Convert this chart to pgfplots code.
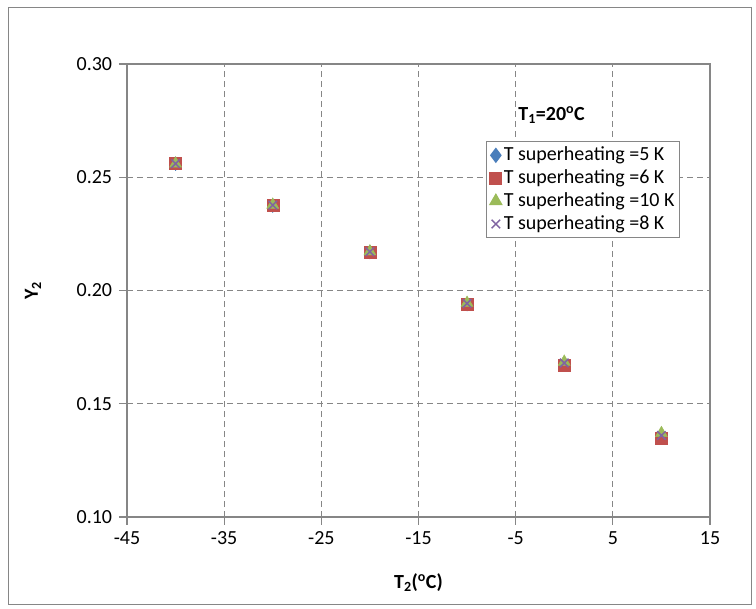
\documentclass[border=0pt]{standalone}
\usepackage{pgfplots}
\pgfplotsset{compat=1.18}
\usepackage{fontspec}
\setmainfont{Carlito}
\definecolor{axgray}{HTML}{868686}
\definecolor{sblue}{HTML}{4A7EBB}
\definecolor{sred}{HTML}{C0504D}
\definecolor{sgreen}{HTML}{9BBB59}
\definecolor{spurple}{HTML}{8064A2}
\begin{document}
\fontsize{20}{24}\selectfont
\begin{tikzpicture}
\begin{axis}[
  at={(0pt,0pt)}, anchor=south west,
  scale only axis, width=583pt, height=453pt,
  xmin=-45, xmax=15, ymin=0.10, ymax=0.30,
  xtick={-45,-35,...,15}, ytick={0.10,0.15,...,0.30},
  /pgf/number format/assume math mode=true,
  yticklabel style={/pgf/number format/fixed,/pgf/number format/fixed zerofill,/pgf/number format/precision=2, font=\fontsize{20}{24}\selectfont},
  xticklabel style={font=\fontsize{20}{24}\selectfont},
  scaled y ticks=false,
  grid=major,
  major grid style={axgray, dashed, dash pattern=on 6pt off 4pt, line width=1pt},
  axis line style={axgray, line width=1.2pt},
  tick style={axgray, line width=1.2pt},
  major tick length=8pt, tick align=outside,
  xtick pos=bottom, ytick pos=left,
  xlabel={\textbf{T\textsubscript{2}(\textsuperscript{o}C)}},
  ylabel={\textbf{Y\textsubscript{2}}},
  xlabel style={at={(rel axis cs:0.5,0)}, anchor=center, yshift=-66pt, font=\fontsize{20}{24}\selectfont},
  ylabel style={at={(rel axis cs:0,0.5)}, anchor=center, yshift=94pt, font=\fontsize{20}{24}\selectfont},
  legend style={at={(rel axis cs:0.9486,0.616)}, anchor=south east, draw=axgray, line width=1pt,
    font=\fontsize{20}{24}\selectfont, row sep=2pt, inner sep=3pt},
  legend cell align=left,
  clip=false,
]
\addplot[only marks, mark=diamond*, mark size=7pt, color=sblue, mark options={fill=sblue, draw=sblue}] coordinates {
(-40,0.256) (-30,0.2375) (-20,0.217) (-10,0.194) (0,0.1675) (10,0.1355)};
\addlegendentry{T superheating =5 K}
\addplot[only marks, mark=square*, mark size=6pt, color=sred, mark options={fill=sred, draw=sred}] coordinates {
(-40,0.256) (-30,0.2375) (-20,0.217) (-10,0.194) (0,0.1672) (10,0.135)};
\addlegendentry{T superheating =6 K}
\addplot[only marks, mark=triangle*, mark size=7pt, color=sgreen, mark options={fill=sgreen, draw=sgreen}] coordinates {
(-40,0.256) (-30,0.2378) (-20,0.2172) (-10,0.1945) (0,0.1685) (10,0.137)};
\addlegendentry{T superheating =10 K}
\addplot[only marks, mark=x, mark size=6pt, color=spurple, mark options={line width=1.5pt}] coordinates {
(-40,0.256) (-30,0.2377) (-20,0.2171) (-10,0.1943) (0,0.168) (10,0.136)};
\addlegendentry{T superheating =8 K}
\node[font=\fontsize{20}{24}\selectfont\bfseries] at (axis cs:-1.3,0.2775) {T\textsubscript{1}=20\textsuperscript{o}C};
\end{axis}
\draw[axgray, line width=1pt] (-118pt,-88pt) rectangle (624pt,509pt);
\path (-127pt,-92pt) rectangle (629pt,517pt);
\end{tikzpicture}
\end{document}
